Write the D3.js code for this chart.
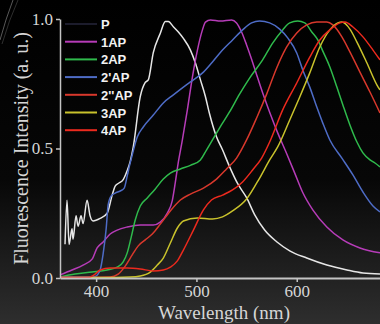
<!DOCTYPE html>
<html>
<head>
<meta charset="utf-8">
<script src="https://cdn.jsdelivr.net/npm/d3@7"></script>
<style>
  html, body { margin: 0; padding: 0; background: #000; }
  #chart { width: 380px; height: 324px; }
</style>
</head>
<body>
<div id="chart"></div>
<script>
// series names in legend order
const seriesNames = ['P', '1AP', '2AP', "2'AP", "2''AP", '3AP', '4AP'];

// [wavelength (nm), intensity (a. u.)]
const P = [
  [369, 0.13], [371, 0.30], [373, 0.13], [376, 0.19], [377, 0.15], [380, 0.24], [382, 0.20],
  [385, 0.24], [387, 0.21], [391, 0.30], [394, 0.24], [397, 0.22], [404, 0.23], [411, 0.25],
  [416, 0.32], [419, 0.355], [422, 0.365], [427, 0.38], [431, 0.415], [434, 0.45], [437, 0.505],
  [444, 0.70], [449, 0.755], [452, 0.765], [457, 0.87], [464, 0.945], [469, 0.99], [472, 0.99],
  [477, 0.97], [482, 0.95], [487, 0.925], [494, 0.88], [499, 0.83], [504, 0.765], [509, 0.70],
  [513, 0.635], [520, 0.545], [526, 0.495], [533, 0.43], [541, 0.365], [550, 0.31], [558, 0.245],
  [568, 0.185], [580, 0.14], [593, 0.105], [610, 0.077], [630, 0.05], [650, 0.031], [666, 0.019],
  [683, 0.015]
];
const AP1 = [
  [364, 0.012], [376, 0.031], [387, 0.05], [396, 0.073], [401, 0.116], [407, 0.139], [414, 0.17],
  [421, 0.185], [431, 0.197], [444, 0.205], [457, 0.205], [464, 0.216], [471, 0.251], [476, 0.30],
  [479, 0.37], [482, 0.448], [486, 0.533], [491, 0.65], [496, 0.776], [501, 0.88], [506, 0.958],
  [509, 0.988], [514, 0.996], [524, 0.992], [535, 0.996], [540, 0.985], [545, 0.95], [550, 0.90],
  [555, 0.845], [560, 0.785], [566, 0.715], [573, 0.64], [580, 0.57], [590, 0.48], [598, 0.405],
  [606, 0.33], [616, 0.263], [630, 0.197], [646, 0.147], [663, 0.116], [683, 0.097]
];
const AP2 = [
  [364, 0.004], [379, 0.015], [396, 0.023], [411, 0.031], [421, 0.042], [427, 0.062], [431, 0.097],
  [435, 0.158], [439, 0.224], [444, 0.278], [451, 0.309], [459, 0.344], [467, 0.382], [474, 0.405],
  [484, 0.421], [494, 0.435], [504, 0.456], [510, 0.494], [516, 0.533], [523, 0.579], [533, 0.641],
  [543, 0.71], [553, 0.772], [566, 0.842], [576, 0.907], [586, 0.958], [593, 0.985], [601, 0.992],
  [608, 0.985], [615, 0.95], [621, 0.919], [626, 0.876], [633, 0.815], [640, 0.737], [646, 0.668],
  [653, 0.591], [660, 0.525], [666, 0.483], [673, 0.456], [678, 0.444], [683, 0.429]
];
const AP2p = [
  [364, 0.004], [392, 0.004], [399, 0.006], [404, 0.031], [407, 0.093], [410, 0.189], [412, 0.282],
  [415, 0.317], [419, 0.328], [424, 0.336], [428, 0.347], [431, 0.394], [433, 0.429], [436, 0.475],
  [441, 0.544], [447, 0.583], [457, 0.629], [467, 0.676], [477, 0.707], [487, 0.737], [494, 0.757],
  [507, 0.795], [516, 0.834], [526, 0.88], [536, 0.919], [546, 0.958], [555, 0.985], [563, 0.992],
  [573, 0.985], [583, 0.961], [591, 0.927], [600, 0.869], [606, 0.803], [613, 0.737], [620, 0.66],
  [626, 0.598], [633, 0.533], [645, 0.463], [656, 0.398], [666, 0.332], [676, 0.278], [683, 0.255]
];
const AP2pp = [
  [364, 0.002], [414, 0.004], [422, 0.015], [429, 0.046], [436, 0.089], [442, 0.124], [449, 0.147],
  [456, 0.17], [464, 0.208], [474, 0.259], [484, 0.301], [494, 0.324], [507, 0.347], [520, 0.382],
  [530, 0.421], [540, 0.463], [550, 0.533], [560, 0.618], [570, 0.71], [580, 0.811], [590, 0.892],
  [600, 0.946], [610, 0.977], [620, 0.988], [630, 0.988], [636, 0.977], [645, 0.931], [653, 0.873],
  [663, 0.795], [673, 0.718], [683, 0.637]
];
const AP3 = [
  [364, 0.002], [404, 0.002], [434, 0.004], [444, 0.008], [454, 0.023], [461, 0.05], [467, 0.077],
  [474, 0.135], [481, 0.193], [487, 0.22], [501, 0.232], [516, 0.228], [526, 0.236], [536, 0.259],
  [550, 0.305], [563, 0.386], [573, 0.456], [581, 0.506], [593, 0.61], [603, 0.699], [613, 0.792],
  [623, 0.892], [633, 0.958], [641, 0.985], [645, 0.988], [653, 0.961], [660, 0.911], [670, 0.83],
  [680, 0.745], [683, 0.726]
];
const AP4 = [
  [364, 0.002], [392, 0.002], [399, 0.015], [404, 0.031], [414, 0.039], [431, 0.039], [444, 0.035],
  [457, 0.027], [467, 0.031], [474, 0.042], [481, 0.066], [487, 0.108], [497, 0.185], [507, 0.263],
  [515, 0.301], [526, 0.32], [536, 0.34], [546, 0.371], [556, 0.417], [565, 0.463], [573, 0.525],
  [586, 0.649], [600, 0.753], [613, 0.853], [623, 0.919], [633, 0.958], [643, 0.985], [648, 0.988],
  [656, 0.969], [666, 0.931], [676, 0.88], [683, 0.842]
];
const seriesData = [P, AP1, AP2, AP2p, AP2pp, AP3, AP4];

const xTicks = [400, 500, 600];
const yTicks = [0, 0.5, 1.0];

const lineColors = ['#e6e6e6', '#b63cb8', '#2fba4c', '#4e6cc6', '#d8382c', '#c9c22c', '#ec2a1e'];
const legendColors = ['#1c1c2c', '#b63cb8', '#2fba4c', '#4e6cc6', '#d8382c', '#c9c22c', '#ec2a1e'];

const W = 380, H = 324;
const plot = {left: 60, right: 380, top: 19, bottom: 278};

const svg = d3.select('#chart')
  .append('svg')
  .attr('width', W)
  .attr('height', H);

const defs = svg.append('defs');
const bg = defs.append('linearGradient')
  .attr('id', 'bg')
  .attr('x1', 0).attr('y1', 0).attr('x2', 0).attr('y2', 1);
bg.append('stop').attr('offset', '0%').attr('stop-color', '#000');
bg.append('stop').attr('offset', '55%').attr('stop-color', '#070707');
bg.append('stop').attr('offset', '100%').attr('stop-color', '#2e2e2e');

svg.append('rect')
  .attr('width', W)
  .attr('height', H)
  .attr('fill', 'url(#bg)');

// faint glare strokes in the top-left corner
svg.append('path')
  .attr('d', 'M0,40 Q6,18 13,0')
  .attr('fill', 'none')
  .attr('stroke', 'rgba(255,255,255,0.35)')
  .attr('stroke-width', 1);
svg.append('path')
  .attr('d', 'M2,44 Q9,20 18,0')
  .attr('fill', 'none')
  .attr('stroke', 'rgba(255,255,255,0.18)')
  .attr('stroke-width', 1);

const x = d3.scaleLinear()
  .domain([364, 683])
  .range([plot.left, plot.right]);

const y = d3.scaleLinear()
  .domain([0, 1])
  .range([plot.bottom, plot.top]);

const line = d3.line()
  .x(d => x(d[0]))
  .y(d => y(d[1]))
  .curve(d3.curveMonotoneX);

seriesData.forEach((s, i) => {
  svg.append('path')
    .datum(s)
    .attr('fill', 'none')
    .attr('stroke', lineColors[i])
    .attr('stroke-width', 1.5)
    .attr('d', line);
});

// axes
const xAxis = svg.append('g')
  .attr('transform', 'translate(0,' + plot.bottom + ')')
  .call(d3.axisBottom(x).tickValues(xTicks).tickSize(4).tickSizeOuter(0));
xAxis.select('.domain').attr('stroke', '#c4c4c4').attr('stroke-width', 2);
xAxis.selectAll('.tick line').attr('stroke', '#c4c4c4').attr('stroke-width', 1.5);
xAxis.selectAll('.tick text')
  .attr('y', 19)
  .attr('dy', 0)
  .attr('fill', '#d6d6d6')
  .style('font-family', '"Liberation Serif", "DejaVu Serif", serif')
  .style('font-size', '17px');

const yAxis = svg.append('g')
  .attr('transform', 'translate(' + plot.left + ',0)')
  .call(d3.axisLeft(y).tickValues(yTicks).tickFormat(d3.format('.1f')).tickSize(4).tickSizeOuter(0));
yAxis.select('.domain').attr('stroke', '#c4c4c4').attr('stroke-width', 1.5);
yAxis.selectAll('.tick line').attr('stroke', '#c4c4c4').attr('stroke-width', 1.5);
yAxis.selectAll('.tick text')
  .attr('x', -7)
  .attr('fill', '#d6d6d6')
  .style('font-family', '"Liberation Serif", "DejaVu Serif", serif')
  .style('font-size', '17px');

svg.append('text')
  .attr('x', (plot.left + plot.right) / 2 + 4)
  .attr('y', 319)
  .attr('text-anchor', 'middle')
  .attr('fill', '#d6d6d6')
  .style('font-family', '"Liberation Serif", "DejaVu Serif", serif')
  .style('font-size', '19px')
  .text('Wavelength (nm)');

svg.append('text')
  .attr('transform', 'translate(28,' + y(0.5) + ') rotate(-90)')
  .attr('text-anchor', 'middle')
  .attr('fill', '#d6d6d6')
  .style('font-family', '"Liberation Serif", "DejaVu Serif", serif')
  .style('font-size', '20px')
  .text('Fluorescence Intensity (a. u.)');

// legend
const legend = svg.append('g').attr('transform', 'translate(65,24)');
seriesNames.forEach((name, i) => {
  const g = legend.append('g').attr('transform', 'translate(0,' + i * 17.7 + ')');
  g.append('line')
    .attr('x1', 0).attr('x2', 32)
    .attr('y1', 0).attr('y2', 0)
    .attr('stroke', legendColors[i])
    .attr('stroke-width', 2);
  g.append('text')
    .attr('x', 36)
    .attr('y', 5)
    .attr('fill', '#f2f2f2')
    .style('font-family', '"Liberation Sans", Arial, sans-serif')
    .style('font-weight', 'bold')
    .style('font-size', '13px')
    .text(name);
});
</script>
</body>
</html>
